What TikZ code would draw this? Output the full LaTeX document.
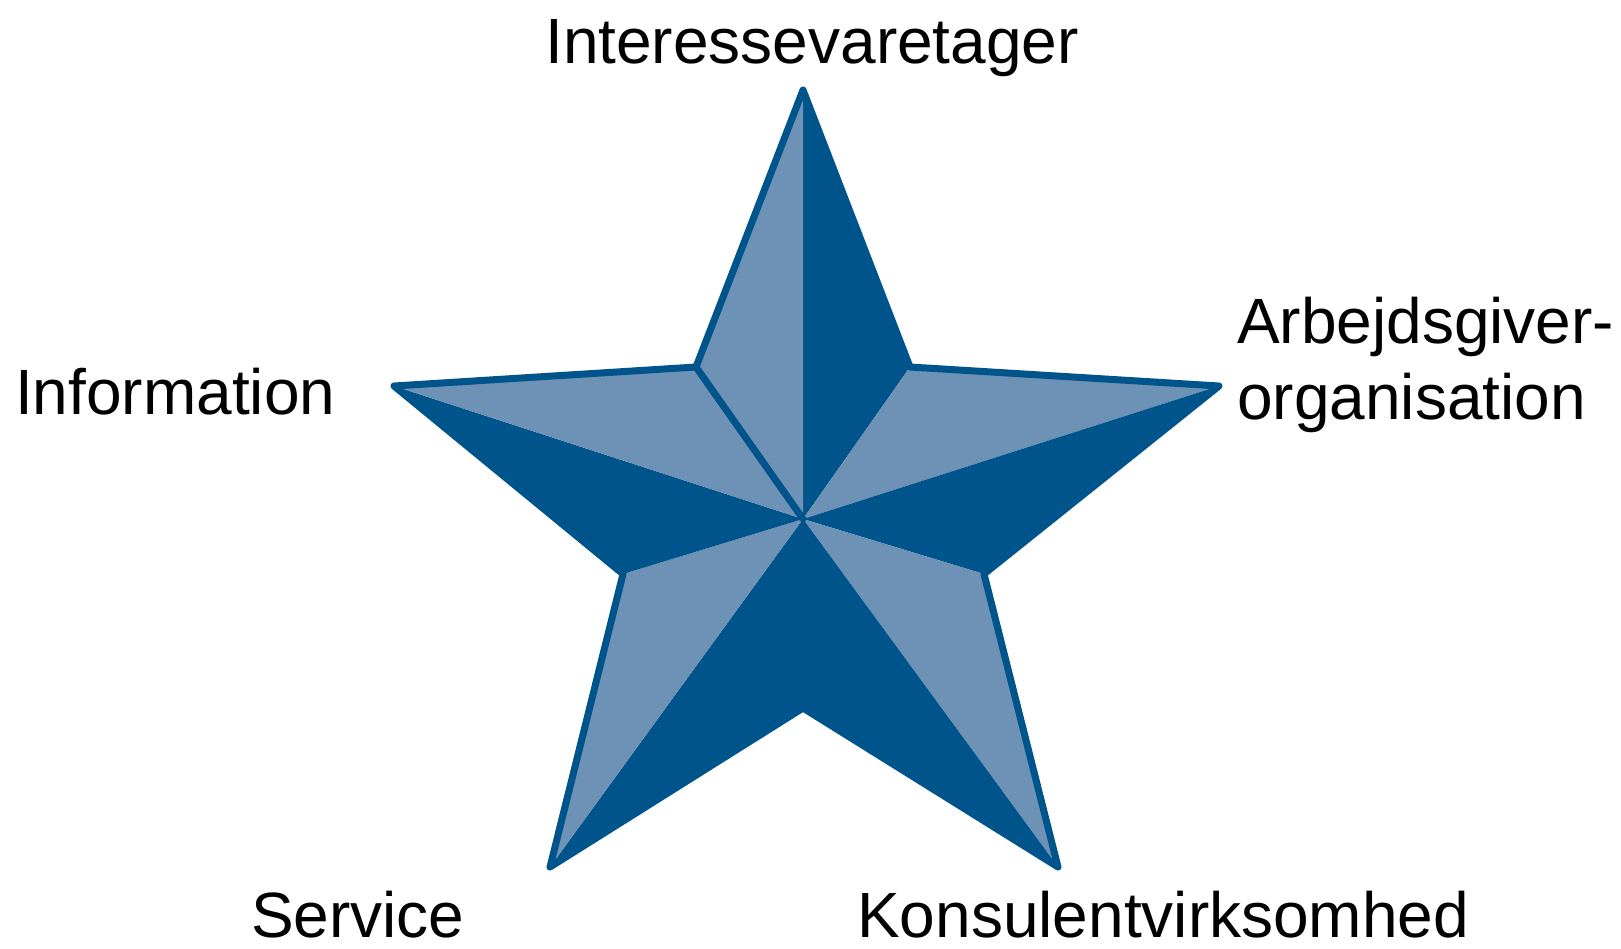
\documentclass[tikz,border=0pt]{standalone}
\usepackage{fontspec}
\setmainfont{Liberation Sans}
\definecolor{stardark}{RGB}{0,84,140}
\definecolor{starlight}{RGB}{110,146,181}
\begin{document}
\begin{tikzpicture}[x=1pt,y=-1pt,
  lbl/.style={anchor=base west,inner sep=0pt,font=\fontsize{64}{76}\selectfont},
  dk/.style={fill=stardark},
  lt/.style={fill=starlight},
  edge/.style={draw=stardark,line width=7pt,line join=round,line cap=round}]
\useasboundingbox (0,0) rectangle (1621,948);
% star vertices
\coordinate (C) at (803,519);
\coordinate (T) at (803,90);
\coordinate (TR) at (910,367);
\coordinate (R) at (1219,386);
\coordinate (RB) at (984,574);
\coordinate (BR) at (1058,867);
\coordinate (B) at (803,708);
\coordinate (BL) at (550,867);
\coordinate (LB) at (623,574);
\coordinate (L) at (394,386);
\coordinate (TL) at (696,367);
% faces
\fill[dk] (C) -- (T) -- (TR) -- cycle;
\fill[lt] (C) -- (TR) -- (R) -- cycle;
\fill[dk] (C) -- (R) -- (RB) -- cycle;
\fill[lt] (C) -- (RB) -- (BR) -- cycle;
\fill[dk] (C) -- (BR) -- (B) -- cycle;
\fill[dk] (C) -- (B) -- (BL) -- cycle;
\fill[lt] (C) -- (BL) -- (LB) -- cycle;
\fill[dk] (C) -- (LB) -- (L) -- cycle;
\fill[lt] (C) -- (L) -- (TL) -- cycle;
\fill[lt] (C) -- (TL) -- (T) -- cycle;
% outline
\draw[edge] (T) -- (TR) -- (R) -- (RB) -- (BR) -- (B) -- (BL) -- (LB) -- (L) -- (TL) -- cycle;
\draw[edge] (TL) -- (C);
% labels
\node[lbl] (interesse) at (545,63) {Interessevaretager};
\node[lbl] (info) at (15,414) {Information};
\node[lbl,align=left,anchor=north west] (arbejd) at (1237,297) {Arbejdsgiver-\\organisation};
\node[lbl] (service) at (251,937) {Service};
\node[lbl] (konsulent) at (857,937) {Konsulentvirksomhed};
\end{tikzpicture}
\end{document}
